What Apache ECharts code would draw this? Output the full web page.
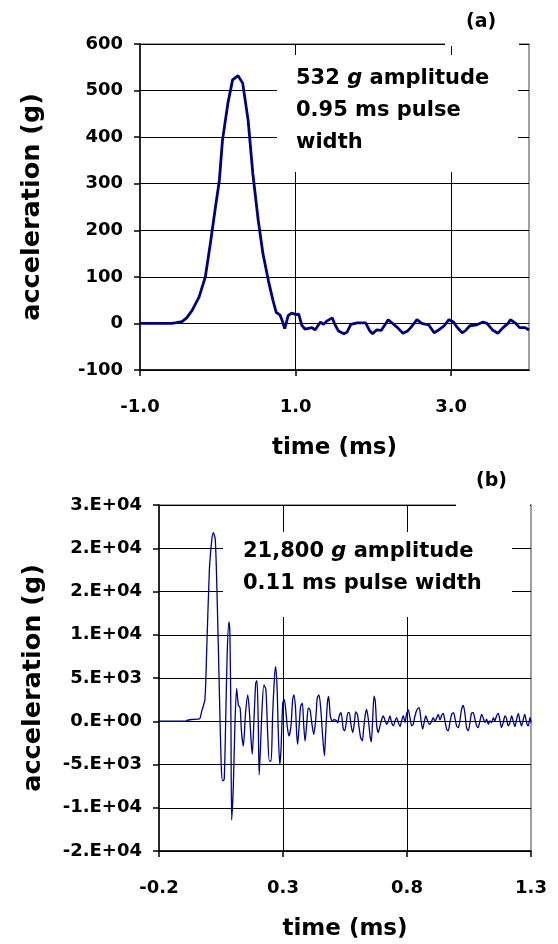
<!DOCTYPE html>
<html><head><meta charset="utf-8">
<script src="https://cdn.jsdelivr.net/npm/echarts@6/dist/echarts.min.js"></script>
<style>html,body{margin:0;padding:0;background:#fff}#c{width:558px;height:944px}</style>
</head><body><div id="c"></div>
<script>
// ---- Panel (a) data: time (ms), acceleration (g)
const tA = [-1.0,-0.8,-0.6,-0.55,-0.46,-0.40,-0.33,-0.24,-0.16,-0.09,-0.03,0.02,0.06,0.13,0.19,0.26,0.32,0.39,0.45,0.52,0.58,0.65,0.71,0.75,0.80,0.83,0.86,0.905,0.95,1.01,1.04,1.08,1.12,1.21,1.25,1.32,1.36,1.40,1.47,1.51,1.55,1.62,1.66,1.71,1.79,1.90,1.95,1.99,2.04,2.10,2.19,2.24,2.31,2.38,2.44,2.48,2.56,2.62,2.71,2.78,2.84,2.91,2.97,3.03,3.07,3.14,3.18,3.24,3.33,3.41,3.46,3.53,3.60,3.66,3.73,3.76,3.83,3.88,3.95,4.0];
const vA = [0,0,0,1,4,12,28,57,100,178,250,307,393,473,523,532,516,436,322,221,150,92,49,24,18,5,-11,17,22,19,20,-4,-12,-9,-14,3,-2,5,12,-4,-16,-22,-19,-2,1,1,-15,-22,-14,-15,8,1,-9,-21,-16,-9,8,0,-3,-20,-14,-5,8,3,-7,-20,-16,-5,-3,3,0,-14,-21,-10,0,8,0,-9,-9,-14];

// ---- Panel (b) data: time (ms), acceleration (g)
const tB = [-0.2,-0.1,-0.09,-0.088,-0.068,-0.037,-0.028,-0.015,-0.008,0.003,0.0125,0.019,0.027,0.035,0.043,0.051,0.057,0.063,0.069,0.075,0.082,0.086,0.090,0.093,0.0997,0.106,0.113,0.12,0.127,0.133,0.140,0.149,0.158,0.164,0.171,0.176,0.183,0.19,0.195,0.200,0.204,0.214,0.223,0.231,0.238,0.245,0.252,0.258,0.265,0.270,0.276,0.281,0.287,0.292,0.299,0.305,0.311,0.317,0.324,0.332,0.339,0.344,0.350,0.355,0.359,0.365,0.371,0.378,0.383,0.389,0.396,0.402,0.409,0.416,0.424,0.432,0.438,0.445,0.452,0.459,0.467,0.472,0.479,0.484,0.491,0.499,0.505,0.515,0.521,0.526,0.534,0.543,0.549,0.555,0.562,0.567,0.574,0.581,0.588,0.593,0.600,0.606,0.613,0.620,0.625,0.632,0.637,0.644,0.651,0.656,0.661,0.667,0.672,0.678,0.684,0.691,0.698,0.704,0.711,0.718,0.725,0.731,0.738,0.745,0.752,0.758,0.765,0.772,0.778,0.785,0.792,0.798,0.805,0.812,0.819,0.825,0.832,0.841,0.849,0.856,0.863,0.869,0.876,0.883,0.890,0.897,0.906,0.913,0.920,0.926,0.933,0.940,0.946,0.953,0.960,0.966,0.973,0.980,0.987,0.993,1.000,1.007,1.014,1.020,1.027,1.034,1.040,1.047,1.054,1.060,1.067,1.074,1.081,1.087,1.094,1.101,1.107,1.114,1.121,1.128,1.134,1.141,1.148,1.154,1.161,1.168,1.175,1.181,1.188,1.195,1.202,1.208,1.215,1.222,1.228,1.235,1.242,1.249,1.255,1.262,1.269,1.275,1.282,1.289,1.296,1.300];
const vB = [0,0,0,100,200,270,1150,2500,7850,17400,20850,21800,21000,13600,4000,-5170,-6900,-6700,200,7850,11500,10100,200,-11400,-7500,-570,3800,1900,1530,-1340,-2870,960,3060,1340,-2100,-3830,200,4400,4700,200,-6200,500,4200,3650,-1300,-4600,-4600,600,4800,6300,4000,-1300,-5000,-3260,2100,2500,1340,-570,-1720,-570,2500,3060,1720,-1340,-2680,-570,1720,2100,-190,-2300,-190,1530,1340,-190,-1530,190,2680,3060,1530,-1340,-4000,-1340,2100,2870,570,0,190,100,-190,570,1000,-900,-1100,-150,1000,1000,-350,-1300,-150,1070,800,-540,-1880,-2260,-920,800,1380,230,-1690,-2370,-150,2900,2340,-540,-1300,-540,230,610,150,-350,40,610,-150,-540,40,420,-150,-610,40,610,-150,800,1300,420,-540,-350,610,1380,1570,230,-920,-150,610,40,-350,-150,420,0,420,800,150,690,920,40,-920,-1110,-150,800,1000,420,-540,-730,230,1380,1840,800,-730,-1110,-150,920,1000,230,-540,-730,40,800,420,-150,230,-350,40,-150,420,40,610,920,40,-730,-150,610,230,-540,-150,610,40,-610,230,920,40,-540,230,800,-150,-540,420,-150];

// ---- Tick values and labels
const xTicksA = [-1, 1, 3];
const xTickLabelsA = ['-1.0', '1.0', '3.0'];
const yTicksA = [-100, 0, 100, 200, 300, 400, 500, 600];
const yTickLabelsA = ['-100', '0', '100', '200', '300', '400', '500', '600'];
const xTicksB = [-0.2, 0.3, 0.8, 1.3];
const xTickLabelsB = ['-0.2', '0.3', '0.8', '1.3'];
const yTicksB = [-15000, -10000, -5000, 0, 5000, 10000, 15000, 20000, 25000];
const yTickLabelsB = ['-2.E+04', '-1.E+04', '-5.E+03', '0.E+00', '5.E+03', '1.E+04', '2.E+04', '2.E+04', '3.E+04'];

function lookup(ticks, labels) {
  return function (v) {
    for (let i = 0; i < ticks.length; i++) {
      if (Math.abs(v - ticks[i]) < 1e-6 * Math.max(1, Math.abs(ticks[i]))) return labels[i];
    }
    return '';
  };
}

const FONT = 'DejaVu Sans';
const labelStyle = { color: '#000', fontFamily: FONT, fontWeight: 'bold', fontSize: 18 };
const xNameStyle = { color: '#000', fontFamily: FONT, fontWeight: 'bold', fontSize: 23 };
const yNameStyle = { color: '#000', fontFamily: FONT, fontWeight: 'bold', fontSize: 25.5 };

function xAxisCfg(idx, min, max, interval, ticks, labels) {
  return {
    type: 'value', gridIndex: idx, min: min, max: max, interval: interval,
    name: 'time (ms)', nameLocation: 'middle', nameGap: 67, nameTextStyle: xNameStyle,
    axisLine: { show: true, onZero: false, lineStyle: { color: '#000', width: 1.5 } },
    axisTick: { show: true, length: 6, inside: false, customValues: ticks, lineStyle: { color: '#000', width: 1.5 } },
    axisLabel: Object.assign({ margin: 28, customValues: ticks, formatter: lookup(ticks, labels) }, labelStyle),
    splitLine: { show: false }
  };
}
function yAxisCfg(idx, min, max, interval, ticks, labels, gap) {
  return {
    type: 'value', gridIndex: idx, min: min, max: max, interval: interval,
    name: 'acceleration (g)', nameLocation: 'middle', nameGap: gap, nameRotate: 90, nameTextStyle: yNameStyle,
    axisLine: { show: true, onZero: false, lineStyle: { color: '#000', width: 1.5 } },
    axisTick: { show: true, length: 6, inside: false, lineStyle: { color: '#000', width: 1.5 } },
    axisLabel: Object.assign({ margin: 17, formatter: lookup(ticks, labels) }, labelStyle),
    splitLine: { show: true, lineStyle: { color: '#000', width: 1 } }
  };
}

function vLines(ticks) {
  return {
    silent: true, symbol: 'none', animation: false,
    label: { show: false },
    lineStyle: { color: '#000', width: 1, type: 'solid' },
    data: ticks.map(v => ({ xAxis: v }))
  };
}

const chart = echarts.init(document.getElementById('c'), null, { renderer: 'canvas' });

const annoStyleBase = { fill: '#000', fontFamily: FONT, fontWeight: 'bold', fontSize: 21 };
const rich = {
  b: { fontFamily: FONT, fontWeight: 'bold', fontSize: 21, color: '#000', lineHeight: 32 },
  i: { fontFamily: FONT, fontWeight: 'bold', fontStyle: 'italic', fontSize: 21, color: '#000', lineHeight: 32 }
};

chart.setOption({
  animation: false,
  backgroundColor: '#fff',
  grid: [
    { left: 140, right: 29, top: 44, height: 326, show: true, borderColor: '#808080', borderWidth: 1.5, backgroundColor: 'transparent' },
    { left: 159, right: 27, top: 505, height: 346, show: true, borderColor: '#808080', borderWidth: 1.5, backgroundColor: 'transparent' }
  ],
  xAxis: [
    xAxisCfg(0, -1, 4, 1, xTicksA, xTickLabelsA),
    xAxisCfg(1, -0.2, 1.3, 0.1, xTicksB, xTickLabelsB)
  ],
  yAxis: [
    yAxisCfg(0, -100, 600, 100, yTicksA, yTickLabelsA, 95),
    yAxisCfg(1, -15000, 25000, 5000, yTicksB, yTickLabelsB, 113)
  ],
  series: [
    {
      type: 'line', xAxisIndex: 0, yAxisIndex: 0, showSymbol: false, smooth: false,
      data: tA.map((t, i) => [t, vA[i]]),
      lineStyle: { color: '#00007f', width: 2.8 },
      markLine: vLines(xTicksA.slice(1)),
      z: 3
    },
    {
      type: 'line', xAxisIndex: 1, yAxisIndex: 1, showSymbol: false, smooth: 0.25,
      data: tB.map((t, i) => [t, vB[i]]),
      lineStyle: { color: '#00008b', width: 1.3 },
      markLine: vLines(xTicksB.slice(1, 3)),
      z: 3
    }
  ],
  graphic: [
    { type: 'rect', z: 50, shape: { x: 277, y: 55, width: 241, height: 117 }, style: { fill: '#fff' } },
    { type: 'text', z: 51, left: 296, top: 68, style: { text: '{b|532 }{i|g}{b| amplitude}\n{b|0.95 ms pulse}\n{b|width}', rich: rich } },
    { type: 'rect', z: 50, shape: { x: 445, y: 0, width: 74, height: 46 }, style: { fill: '#fff' } },
    { type: 'text', z: 51, left: 466, top: 13, style: Object.assign({}, annoStyleBase, { text: '(a)', fontSize: 19 }) },
    { type: 'rect', z: 50, shape: { x: 223, y: 532, width: 289, height: 85 }, style: { fill: '#fff' } },
    { type: 'text', z: 51, left: 243, top: 541, style: { text: '{b|21,800 }{i|g}{b| amplitude}\n{b|0.11 ms pulse width}', rich: rich } },
    { type: 'rect', z: 50, shape: { x: 456, y: 462, width: 74, height: 44 }, style: { fill: '#fff' } },
    { type: 'text', z: 51, left: 476, top: 472, style: Object.assign({}, annoStyleBase, { text: '(b)', fontSize: 19 }) }
  ]
});
</script>
</body></html>
